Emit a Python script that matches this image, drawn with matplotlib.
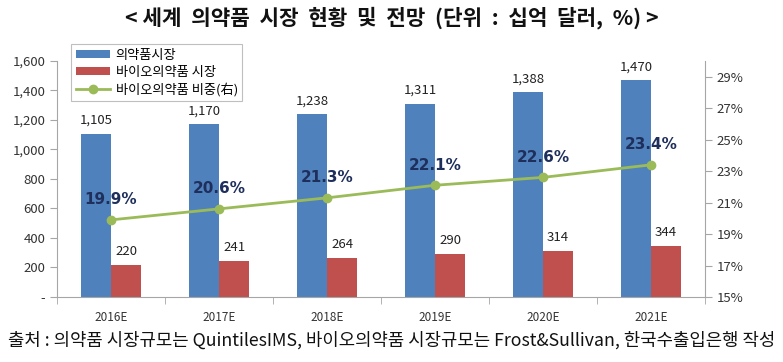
import numpy as np
import matplotlib.pyplot as plt
from matplotlib.ticker import FuncFormatter

plt.rcParams['font.family'] = ['Noto Sans CJK KR', 'DejaVu Sans']

# data
years = ["2016E", "2017E", "2018E", "2019E", "2020E", "2021E"]
pharma = [1105, 1170, 1238, 1311, 1388, 1470]
bio = [220, 241, 264, 290, 314, 344]
bio_share = [19.9, 20.6, 21.3, 22.1, 22.6, 23.4]

blue = "#4F81BD"
red = "#C0504D"
green = "#9BBB59"
navy = "#1F2F5C"
axis_gray = "#A6A6A6"

fig = plt.figure(figsize=(7.83, 3.62), dpi=100)
ax = fig.add_axes([0.0728, 0.1796, 0.8276, 0.652])
ax2 = ax.twinx()

x = np.arange(len(years))
w = 0.28
b1 = ax.bar(x - w / 2, pharma, w, color=blue, label="의약품시장", zorder=2)
b2 = ax.bar(x + w / 2, bio, w, color=red, label="바이오의약품 시장", zorder=2)
ln, = ax2.plot(x, bio_share, color=green, lw=2, marker='o', ms=6,
               label="바이오의약품 비중(右)", zorder=3)

# bar value labels
for xi, v in zip(x, pharma):
    ax.annotate(f"{v:,}", (xi - w / 2, v), xytext=(0, 5), textcoords='offset points',
                ha='center', va='bottom', fontsize=9.5, color='#222222')
for xi, v in zip(x, bio):
    ax.annotate(f"{v:,}", (xi + w / 2, v), xytext=(0, 5), textcoords='offset points',
                ha='center', va='bottom', fontsize=9.5, color='#222222')
for xi, v in zip(x, bio_share):
    ax2.annotate(f"{v}%", (xi, v), xytext=(0, 9), textcoords='offset points',
                 ha='center', va='bottom', fontsize=11, fontweight='bold', color=navy,
                 family=['DejaVu Sans'])

# axes
ax.set_xlim(-0.5, 5.5)
ax.set_ylim(0, 1600)
ax.set_yticks(range(0, 1601, 200))
ax.yaxis.set_major_formatter(FuncFormatter(lambda v, p: "-" if v == 0 else f"{int(v):,}"))
ax2.set_ylim(15, 30)
ax2.set_yticks(range(15, 30, 2))
ax2.yaxis.set_major_formatter(FuncFormatter(lambda v, p: f"{int(v)}%"))

ax.set_xticks(x)
ax.set_xticklabels(years, fontsize=8.5, color='#333333')
ax.set_xticks(np.arange(-0.5, 6, 1), minor=True)
ax.tick_params(axis='x', which='major', length=0, pad=10)
ax.tick_params(axis='x', which='minor', length=5, color=axis_gray, direction='out')
ax.tick_params(axis='y', labelsize=9.5, length=5, color=axis_gray, labelcolor='#333333')
ax2.tick_params(axis='y', labelsize=9.5, length=5, color=axis_gray, labelcolor='#333333')

for a in (ax, ax2):
    a.spines['top'].set_visible(False)
    for s in ('left', 'right', 'bottom'):
        a.spines[s].set_color(axis_gray)
ax.spines['right'].set_visible(False)
ax2.spines['left'].set_visible(False)
ax2.spines['bottom'].set_visible(False)

leg = ax2.legend(handles=[b1, b2, ln], loc='upper left', bbox_to_anchor=(0.012, 1.1),
                 fontsize=9.5, frameon=True, fancybox=False, edgecolor='#BFBFBF',
                 handlelength=2.6, handleheight=0.6, borderpad=0.35, labelspacing=0.3,
                 handletextpad=0.4, framealpha=1)
leg.get_frame().set_linewidth(0.8)

fig.text(0.5, 0.952, "< 세계  의약품  시장  현황  및  전망  (단위  :  십억  달러,  %) >",
         ha='center', va='center', fontsize=15.3, fontweight='bold', color='#111111')
fig.text(0.5, 0.06, "출처 : 의약품 시장규모는 QuintilesIMS, 바이오의약품 시장규모는 Frost&Sullivan, 한국수출입은행 작성",
         ha='center', va='center', fontsize=12.8, color='#111111')

fig.savefig("out.png", dpi=100)
